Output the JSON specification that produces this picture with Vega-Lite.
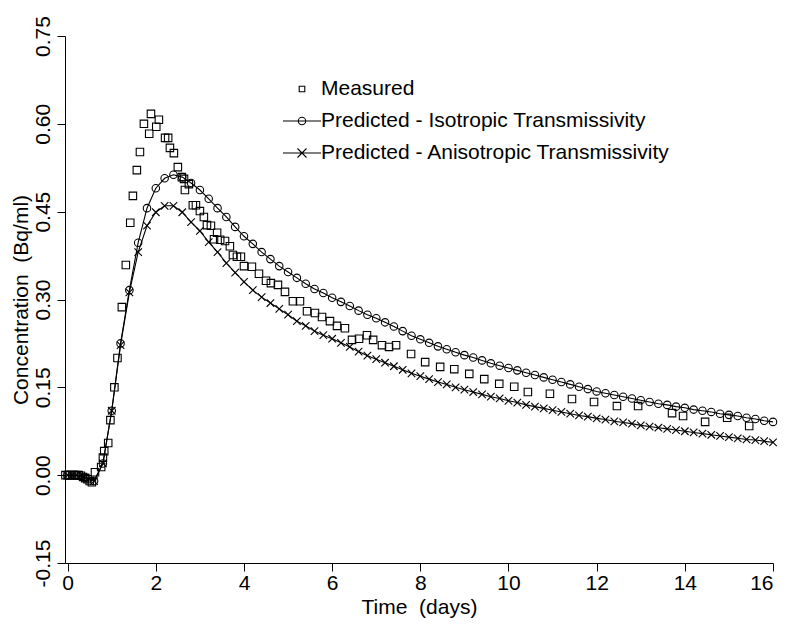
{
  "$schema": "https://vega.github.io/schema/vega-lite/v6.json",
  "width": 708,
  "height": 527,
  "autosize": "none",
  "padding": {"left": 65, "top": 36, "right": 15, "bottom": 67},
  "background": "white",
  "config": {
    "font": "Liberation Sans",
    "view": {"stroke": null},
    "axis": {"grid": false, "domainColor": "black", "tickColor": "black", "labelColor": "black", "titleColor": "black", "labelFontSize": 21, "titleFontSize": 21, "titleFontWeight": "normal", "tickSize": 8, "domainWidth": 1, "tickWidth": 1}
  },
  "resolve": {"scale": {"shape": "independent"}, "legend": {"shape": "independent"}},
  "data": {"values": [
    {"series":"Measured","day":-0.05,"conc":0.0},{"series":"Measured","day":0.0,"conc":0.0},{"series":"Measured","day":0.05,"conc":0.0},{"series":"Measured","day":0.1,"conc":0.0},{"series":"Measured","day":0.15,"conc":0.0},{"series":"Measured","day":0.2,"conc":0.0},{"series":"Measured","day":0.25,"conc":0.0},{"series":"Measured","day":0.3,"conc":-0.001},{"series":"Measured","day":0.35,"conc":-0.003},{"series":"Measured","day":0.4,"conc":-0.005},{"series":"Measured","day":0.45,"conc":-0.007},{"series":"Measured","day":0.5,"conc":-0.010},{"series":"Measured","day":0.55,"conc":-0.012},
    {"series":"Measured","day":0.62,"conc":0.005},{"series":"Measured","day":0.76,"conc":0.014},{"series":"Measured","day":0.80,"conc":0.030},{"series":"Measured","day":0.83,"conc":0.041},{"series":"Measured","day":0.92,"conc":0.055},{"series":"Measured","day":0.97,"conc":0.094},{"series":"Measured","day":1.06,"conc":0.15},{"series":"Measured","day":1.13,"conc":0.20},
    {"series":"Measured","day":1.23,"conc":0.287},{"series":"Measured","day":1.32,"conc":0.359},{"series":"Measured","day":1.42,"conc":0.431},{"series":"Measured","day":1.48,"conc":0.477},{"series":"Measured","day":1.57,"conc":0.521},{"series":"Measured","day":1.64,"conc":0.552},{"series":"Measured","day":1.73,"conc":0.600},{"series":"Measured","day":1.85,"conc":0.583},{"series":"Measured","day":1.89,"conc":0.617},{"series":"Measured","day":2.01,"conc":0.595},{"series":"Measured","day":2.07,"conc":0.607},{"series":"Measured","day":2.21,"conc":0.576},{"series":"Measured","day":2.28,"conc":0.576},{"series":"Measured","day":2.32,"conc":0.559},{"series":"Measured","day":2.41,"conc":0.550},{"series":"Measured","day":2.50,"conc":0.526},{"series":"Measured","day":2.59,"conc":0.509},{"series":"Measured","day":2.64,"conc":0.506},{"series":"Measured","day":2.66,"conc":0.487},{"series":"Measured","day":2.75,"conc":0.497},{"series":"Measured","day":2.84,"conc":0.461},{"series":"Measured","day":2.91,"conc":0.461},{"series":"Measured","day":3.00,"conc":0.451},{"series":"Measured","day":3.09,"conc":0.441},{"series":"Measured","day":3.16,"conc":0.427},{"series":"Measured","day":3.25,"conc":0.426},{"series":"Measured","day":3.32,"conc":0.403},{"series":"Measured","day":3.39,"conc":0.414},{"series":"Measured","day":3.46,"conc":0.402},{"series":"Measured","day":3.57,"conc":0.400},{"series":"Measured","day":3.68,"conc":0.391},{"series":"Measured","day":3.75,"conc":0.376},{"series":"Measured","day":3.84,"conc":0.373},{"series":"Measured","day":3.93,"conc":0.373},{"series":"Measured","day":4.00,"conc":0.357},{"series":"Measured","day":4.18,"conc":0.356},{"series":"Measured","day":4.34,"conc":0.344},{"series":"Measured","day":4.50,"conc":0.332},{"series":"Measured","day":4.61,"conc":0.328},{"series":"Measured","day":4.77,"conc":0.325},{"series":"Measured","day":4.93,"conc":0.313},{"series":"Measured","day":5.11,"conc":0.297},{"series":"Measured","day":5.27,"conc":0.297},{"series":"Measured","day":5.43,"conc":0.280},{"series":"Measured","day":5.61,"conc":0.277},{"series":"Measured","day":5.77,"conc":0.270},{"series":"Measured","day":5.95,"conc":0.263},{"series":"Measured","day":6.11,"conc":0.255},{"series":"Measured","day":6.29,"conc":0.251},{"series":"Measured","day":6.45,"conc":0.231},{"series":"Measured","day":6.61,"conc":0.233},{"series":"Measured","day":6.79,"conc":0.239},{"series":"Measured","day":6.93,"conc":0.231},{"series":"Measured","day":7.13,"conc":0.222},{"series":"Measured","day":7.29,"conc":0.219},{"series":"Measured","day":7.45,"conc":0.222},{"series":"Measured","day":7.79,"conc":0.207},{"series":"Measured","day":8.11,"conc":0.193},{"series":"Measured","day":8.45,"conc":0.185},{"series":"Measured","day":8.77,"conc":0.181},{"series":"Measured","day":9.11,"conc":0.173},{"series":"Measured","day":9.45,"conc":0.164},{"series":"Measured","day":9.79,"conc":0.156},{"series":"Measured","day":10.13,"conc":0.151},{"series":"Measured","day":10.44,"conc":0.142},{"series":"Measured","day":10.94,"conc":0.139},{"series":"Measured","day":11.44,"conc":0.130},{"series":"Measured","day":11.94,"conc":0.125},{"series":"Measured","day":12.46,"conc":0.118},{"series":"Measured","day":12.94,"conc":0.118},{"series":"Measured","day":13.71,"conc":0.106},{"series":"Measured","day":13.96,"conc":0.101},{"series":"Measured","day":14.46,"conc":0.091},{"series":"Measured","day":14.96,"conc":0.098},{"series":"Measured","day":15.46,"conc":0.084},
    {"series":"Predicted - Isotropic Transmissivity","day":0.0,"conc":0.0},{"series":"Predicted - Isotropic Transmissivity","day":0.2,"conc":0.0},{"series":"Predicted - Isotropic Transmissivity","day":0.4,"conc":-0.004},{"series":"Predicted - Isotropic Transmissivity","day":0.6,"conc":-0.010},{"series":"Predicted - Isotropic Transmissivity","day":0.8,"conc":0.020},{"series":"Predicted - Isotropic Transmissivity","day":1.0,"conc":0.110},{"series":"Predicted - Isotropic Transmissivity","day":1.2,"conc":0.225},{"series":"Predicted - Isotropic Transmissivity","day":1.4,"conc":0.316},{"series":"Predicted - Isotropic Transmissivity","day":1.6,"conc":0.397},{"series":"Predicted - Isotropic Transmissivity","day":1.8,"conc":0.456},{"series":"Predicted - Isotropic Transmissivity","day":2.0,"conc":0.490},{"series":"Predicted - Isotropic Transmissivity","day":2.2,"conc":0.507},{"series":"Predicted - Isotropic Transmissivity","day":2.4,"conc":0.513},{"series":"Predicted - Isotropic Transmissivity","day":2.6,"conc":0.509},{"series":"Predicted - Isotropic Transmissivity","day":2.8,"conc":0.499},{"series":"Predicted - Isotropic Transmissivity","day":3.0,"conc":0.487},{"series":"Predicted - Isotropic Transmissivity","day":3.2,"conc":0.472},{"series":"Predicted - Isotropic Transmissivity","day":3.4,"conc":0.456},{"series":"Predicted - Isotropic Transmissivity","day":3.6,"conc":0.441},{"series":"Predicted - Isotropic Transmissivity","day":3.8,"conc":0.424},{"series":"Predicted - Isotropic Transmissivity","day":4.0,"conc":0.408},{"series":"Predicted - Isotropic Transmissivity","day":4.2,"conc":0.395},{"series":"Predicted - Isotropic Transmissivity","day":4.4,"conc":0.381},{"series":"Predicted - Isotropic Transmissivity","day":4.6,"conc":0.369},{"series":"Predicted - Isotropic Transmissivity","day":4.8,"conc":0.357},{"series":"Predicted - Isotropic Transmissivity","day":5.0,"conc":0.347},{"series":"Predicted - Isotropic Transmissivity","day":5.2,"conc":0.337},{"series":"Predicted - Isotropic Transmissivity","day":5.4,"conc":0.327},{"series":"Predicted - Isotropic Transmissivity","day":5.6,"conc":0.318},{"series":"Predicted - Isotropic Transmissivity","day":5.8,"conc":0.311},{"series":"Predicted - Isotropic Transmissivity","day":6.0,"conc":0.303},{"series":"Predicted - Isotropic Transmissivity","day":6.2,"conc":0.296},{"series":"Predicted - Isotropic Transmissivity","day":6.4,"conc":0.289},{"series":"Predicted - Isotropic Transmissivity","day":6.6,"conc":0.281},{"series":"Predicted - Isotropic Transmissivity","day":6.8,"conc":0.274},{"series":"Predicted - Isotropic Transmissivity","day":7.0,"conc":0.268},{"series":"Predicted - Isotropic Transmissivity","day":7.2,"conc":0.261},{"series":"Predicted - Isotropic Transmissivity","day":7.4,"conc":0.254},{"series":"Predicted - Isotropic Transmissivity","day":7.6,"conc":0.246},{"series":"Predicted - Isotropic Transmissivity","day":7.8,"conc":0.238},{"series":"Predicted - Isotropic Transmissivity","day":8.0,"conc":0.232},{"series":"Predicted - Isotropic Transmissivity","day":8.2,"conc":0.226},{"series":"Predicted - Isotropic Transmissivity","day":8.4,"conc":0.220},{"series":"Predicted - Isotropic Transmissivity","day":8.6,"conc":0.215},{"series":"Predicted - Isotropic Transmissivity","day":8.8,"conc":0.210},{"series":"Predicted - Isotropic Transmissivity","day":9.0,"conc":0.205},{"series":"Predicted - Isotropic Transmissivity","day":9.2,"conc":0.201},{"series":"Predicted - Isotropic Transmissivity","day":9.4,"conc":0.196},{"series":"Predicted - Isotropic Transmissivity","day":9.6,"conc":0.191},{"series":"Predicted - Isotropic Transmissivity","day":9.8,"conc":0.187},{"series":"Predicted - Isotropic Transmissivity","day":10.0,"conc":0.183},{"series":"Predicted - Isotropic Transmissivity","day":10.2,"conc":0.179},{"series":"Predicted - Isotropic Transmissivity","day":10.4,"conc":0.175},{"series":"Predicted - Isotropic Transmissivity","day":10.6,"conc":0.171},{"series":"Predicted - Isotropic Transmissivity","day":10.8,"conc":0.167},{"series":"Predicted - Isotropic Transmissivity","day":11.0,"conc":0.163},{"series":"Predicted - Isotropic Transmissivity","day":11.2,"conc":0.159},{"series":"Predicted - Isotropic Transmissivity","day":11.4,"conc":0.155},{"series":"Predicted - Isotropic Transmissivity","day":11.6,"conc":0.151},{"series":"Predicted - Isotropic Transmissivity","day":11.8,"conc":0.147},{"series":"Predicted - Isotropic Transmissivity","day":12.0,"conc":0.143},{"series":"Predicted - Isotropic Transmissivity","day":12.2,"conc":0.140},{"series":"Predicted - Isotropic Transmissivity","day":12.4,"conc":0.137},{"series":"Predicted - Isotropic Transmissivity","day":12.6,"conc":0.134},{"series":"Predicted - Isotropic Transmissivity","day":12.8,"conc":0.131},{"series":"Predicted - Isotropic Transmissivity","day":13.0,"conc":0.128},{"series":"Predicted - Isotropic Transmissivity","day":13.2,"conc":0.125},{"series":"Predicted - Isotropic Transmissivity","day":13.4,"conc":0.122},{"series":"Predicted - Isotropic Transmissivity","day":13.6,"conc":0.120},{"series":"Predicted - Isotropic Transmissivity","day":13.8,"conc":0.117},{"series":"Predicted - Isotropic Transmissivity","day":14.0,"conc":0.115},{"series":"Predicted - Isotropic Transmissivity","day":14.2,"conc":0.112},{"series":"Predicted - Isotropic Transmissivity","day":14.4,"conc":0.110},{"series":"Predicted - Isotropic Transmissivity","day":14.6,"conc":0.108},{"series":"Predicted - Isotropic Transmissivity","day":14.8,"conc":0.105},{"series":"Predicted - Isotropic Transmissivity","day":15.0,"conc":0.103},{"series":"Predicted - Isotropic Transmissivity","day":15.2,"conc":0.101},{"series":"Predicted - Isotropic Transmissivity","day":15.4,"conc":0.098},{"series":"Predicted - Isotropic Transmissivity","day":15.6,"conc":0.096},{"series":"Predicted - Isotropic Transmissivity","day":15.8,"conc":0.093},{"series":"Predicted - Isotropic Transmissivity","day":16.0,"conc":0.091},
    {"series":"Predicted - Anisotropic Transmissivity","day":0.0,"conc":0.0},{"series":"Predicted - Anisotropic Transmissivity","day":0.2,"conc":0.0},{"series":"Predicted - Anisotropic Transmissivity","day":0.4,"conc":-0.004},{"series":"Predicted - Anisotropic Transmissivity","day":0.6,"conc":-0.010},{"series":"Predicted - Anisotropic Transmissivity","day":0.8,"conc":0.020},{"series":"Predicted - Anisotropic Transmissivity","day":1.0,"conc":0.110},{"series":"Predicted - Anisotropic Transmissivity","day":1.2,"conc":0.222},{"series":"Predicted - Anisotropic Transmissivity","day":1.4,"conc":0.312},{"series":"Predicted - Anisotropic Transmissivity","day":1.6,"conc":0.381},{"series":"Predicted - Anisotropic Transmissivity","day":1.8,"conc":0.426},{"series":"Predicted - Anisotropic Transmissivity","day":2.0,"conc":0.449},{"series":"Predicted - Anisotropic Transmissivity","day":2.2,"conc":0.460},{"series":"Predicted - Anisotropic Transmissivity","day":2.4,"conc":0.460},{"series":"Predicted - Anisotropic Transmissivity","day":2.6,"conc":0.449},{"series":"Predicted - Anisotropic Transmissivity","day":2.8,"conc":0.432},{"series":"Predicted - Anisotropic Transmissivity","day":3.0,"conc":0.417},{"series":"Predicted - Anisotropic Transmissivity","day":3.2,"conc":0.398},{"series":"Predicted - Anisotropic Transmissivity","day":3.4,"conc":0.381},{"series":"Predicted - Anisotropic Transmissivity","day":3.6,"conc":0.362},{"series":"Predicted - Anisotropic Transmissivity","day":3.8,"conc":0.346},{"series":"Predicted - Anisotropic Transmissivity","day":4.0,"conc":0.330},{"series":"Predicted - Anisotropic Transmissivity","day":4.2,"conc":0.316},{"series":"Predicted - Anisotropic Transmissivity","day":4.4,"conc":0.304},{"series":"Predicted - Anisotropic Transmissivity","day":4.6,"conc":0.294},{"series":"Predicted - Anisotropic Transmissivity","day":4.8,"conc":0.284},{"series":"Predicted - Anisotropic Transmissivity","day":5.0,"conc":0.274},{"series":"Predicted - Anisotropic Transmissivity","day":5.2,"conc":0.263},{"series":"Predicted - Anisotropic Transmissivity","day":5.4,"conc":0.255},{"series":"Predicted - Anisotropic Transmissivity","day":5.6,"conc":0.246},{"series":"Predicted - Anisotropic Transmissivity","day":5.8,"conc":0.239},{"series":"Predicted - Anisotropic Transmissivity","day":6.0,"conc":0.233},{"series":"Predicted - Anisotropic Transmissivity","day":6.2,"conc":0.226},{"series":"Predicted - Anisotropic Transmissivity","day":6.4,"conc":0.219},{"series":"Predicted - Anisotropic Transmissivity","day":6.6,"conc":0.211},{"series":"Predicted - Anisotropic Transmissivity","day":6.8,"conc":0.204},{"series":"Predicted - Anisotropic Transmissivity","day":7.0,"conc":0.198},{"series":"Predicted - Anisotropic Transmissivity","day":7.2,"conc":0.192},{"series":"Predicted - Anisotropic Transmissivity","day":7.4,"conc":0.186},{"series":"Predicted - Anisotropic Transmissivity","day":7.6,"conc":0.180},{"series":"Predicted - Anisotropic Transmissivity","day":7.8,"conc":0.174},{"series":"Predicted - Anisotropic Transmissivity","day":8.0,"conc":0.169},{"series":"Predicted - Anisotropic Transmissivity","day":8.2,"conc":0.164},{"series":"Predicted - Anisotropic Transmissivity","day":8.4,"conc":0.159},{"series":"Predicted - Anisotropic Transmissivity","day":8.6,"conc":0.155},{"series":"Predicted - Anisotropic Transmissivity","day":8.8,"conc":0.150},{"series":"Predicted - Anisotropic Transmissivity","day":9.0,"conc":0.146},{"series":"Predicted - Anisotropic Transmissivity","day":9.2,"conc":0.142},{"series":"Predicted - Anisotropic Transmissivity","day":9.4,"conc":0.138},{"series":"Predicted - Anisotropic Transmissivity","day":9.6,"conc":0.134},{"series":"Predicted - Anisotropic Transmissivity","day":9.8,"conc":0.131},{"series":"Predicted - Anisotropic Transmissivity","day":10.0,"conc":0.127},{"series":"Predicted - Anisotropic Transmissivity","day":10.2,"conc":0.124},{"series":"Predicted - Anisotropic Transmissivity","day":10.4,"conc":0.120},{"series":"Predicted - Anisotropic Transmissivity","day":10.6,"conc":0.117},{"series":"Predicted - Anisotropic Transmissivity","day":10.8,"conc":0.114},{"series":"Predicted - Anisotropic Transmissivity","day":11.0,"conc":0.111},{"series":"Predicted - Anisotropic Transmissivity","day":11.2,"conc":0.108},{"series":"Predicted - Anisotropic Transmissivity","day":11.4,"conc":0.105},{"series":"Predicted - Anisotropic Transmissivity","day":11.6,"conc":0.102},{"series":"Predicted - Anisotropic Transmissivity","day":11.8,"conc":0.100},{"series":"Predicted - Anisotropic Transmissivity","day":12.0,"conc":0.097},{"series":"Predicted - Anisotropic Transmissivity","day":12.2,"conc":0.095},{"series":"Predicted - Anisotropic Transmissivity","day":12.4,"conc":0.092},{"series":"Predicted - Anisotropic Transmissivity","day":12.6,"conc":0.090},{"series":"Predicted - Anisotropic Transmissivity","day":12.8,"conc":0.088},{"series":"Predicted - Anisotropic Transmissivity","day":13.0,"conc":0.085},{"series":"Predicted - Anisotropic Transmissivity","day":13.2,"conc":0.083},{"series":"Predicted - Anisotropic Transmissivity","day":13.4,"conc":0.081},{"series":"Predicted - Anisotropic Transmissivity","day":13.6,"conc":0.079},{"series":"Predicted - Anisotropic Transmissivity","day":13.8,"conc":0.077},{"series":"Predicted - Anisotropic Transmissivity","day":14.0,"conc":0.075},{"series":"Predicted - Anisotropic Transmissivity","day":14.2,"conc":0.073},{"series":"Predicted - Anisotropic Transmissivity","day":14.4,"conc":0.071},{"series":"Predicted - Anisotropic Transmissivity","day":14.6,"conc":0.069},{"series":"Predicted - Anisotropic Transmissivity","day":14.8,"conc":0.067},{"series":"Predicted - Anisotropic Transmissivity","day":15.0,"conc":0.065},{"series":"Predicted - Anisotropic Transmissivity","day":15.2,"conc":0.063},{"series":"Predicted - Anisotropic Transmissivity","day":15.4,"conc":0.061},{"series":"Predicted - Anisotropic Transmissivity","day":15.6,"conc":0.060},{"series":"Predicted - Anisotropic Transmissivity","day":15.8,"conc":0.058},{"series":"Predicted - Anisotropic Transmissivity","day":16.0,"conc":0.056}
  ]},
  "encoding": {
    "x": {"field": "day", "type": "quantitative", "scale": {"domain": [-0.06, 16], "nice": false, "zero": false},
      "axis": {"title": "Time\u00a0\u00a0(days)", "values": [0, 2, 4, 6, 8, 10, 12, 14, 16], "format": "d", "labelPadding": 1, "titlePadding": 3}},
    "y": {"field": "conc", "type": "quantitative", "scale": {"domain": [-0.15, 0.75], "nice": false, "zero": false},
      "axis": {"title": "Concentration\u00a0\u00a0(Bq/ml)", "values": [-0.15, 0, 0.15, 0.3, 0.45, 0.6, 0.75], "labelExpr": "datum.value < 0 ? '-' + format(-datum.value, '.2f') : format(datum.value, '.2f')", "labelAngle": -90, "labelAlign": "center", "labelBaseline": "bottom", "labelPadding": 4, "titlePadding": 1}}
  },
  "layer": [
    {
      "transform": [{"filter": "datum.series !== 'Measured'"}],
      "mark": {"type": "line", "color": "black", "strokeWidth": 1.1},
      "encoding": {"detail": {"field": "series"}}
    },
    {
      "mark": {"type": "point", "filled": false, "color": "black", "strokeWidth": 1.1, "size": 56, "opacity": 1},
      "encoding": {
        "shape": {"field": "series", "type": "nominal",
          "scale": {"domain": ["Measured", "Predicted - Isotropic Transmissivity", "Predicted - Anisotropic Transmissivity"], "range": ["square", "circle", "M-1,-1L1,1M-1,1L1,-1"]},
          "legend": null}
      }
    },
    {
      "transform": [{"filter": "datum.day > 100"}],
      "mark": {"type": "point", "filled": false, "color": "black", "strokeWidth": 1.1, "opacity": 1},
      "encoding": {
        "shape": {"field": "series", "type": "nominal",
          "scale": {"domain": ["Measured", "Predicted - Isotropic Transmissivity", "Predicted - Anisotropic Transmissivity"],
            "range": ["M-0.28,-0.28L0.28,-0.28L0.28,0.28L-0.28,0.28Z", "M-1.9,0L1.9,0M-0.37,0A0.37,0.37 0 1,0 0.37,0A0.37,0.37 0 1,0 -0.37,0", "M-1.9,0L1.9,0M-0.45,-0.45L0.45,0.45M-0.45,0.45L0.45,-0.45"]},
          "legend": {"orient": "none", "legendX": 226, "legendY": 42, "title": null, "padding": 0, "labelFontSize": 21, "labelColor": "black", "labelLimit": 0, "labelOffset": 8, "symbolSize": 400, "rowPadding": 11, "symbolStrokeColor": "black", "symbolFillColor": "transparent", "symbolStrokeWidth": 1.1, "symbolOpacity": 1}
        }
      }
    }
  ]
}
